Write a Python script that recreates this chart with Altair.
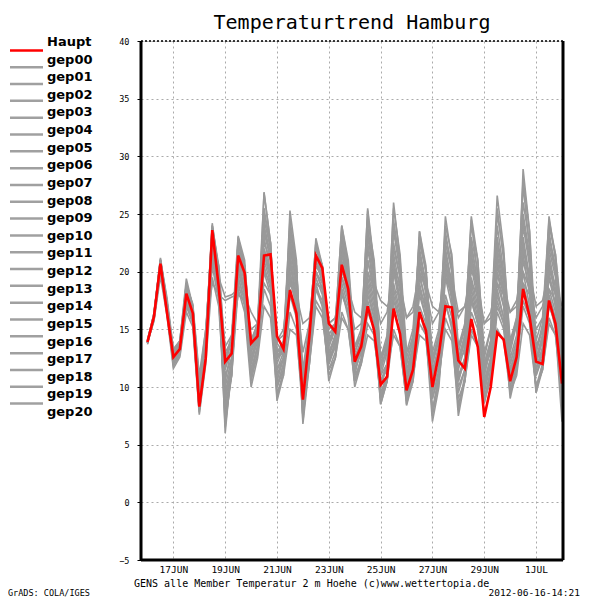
import altair as alt
import pandas as pd

# time steps (hours after 16 JUN 00Z), 6-hourly
hours = list(range(0, 385, 6))

# dates for the x-axis ticks (day offsets from 16 JUN)
tick_days = [1, 3, 5, 7, 9, 11, 13, 15]

haupt = [13.9, 16.1, 20.7, 16.5, 12.6, 13.3, 18.1, 16.4, 8.3, 12.5, 23.6, 18.7,
         12.2, 12.9, 21.4, 19.9, 13.8, 14.4, 21.4, 21.5, 14.4, 13.3, 18.4, 16.4,
         8.9, 14.4, 21.4, 20.3, 15.5, 14.8, 20.6, 18.5, 12.2, 13.5, 17.0, 14.9,
         10.2, 10.9, 16.8, 14.6, 9.7, 11.5, 16.5, 14.9, 10.0, 12.9, 17.0, 16.9,
         12.3, 11.6, 15.9, 13.5, 7.4, 10.0, 14.7, 14.1, 10.5, 12.6, 18.5, 16.1,
         12.2, 12.0, 17.5, 15.5, 10.3]

gep00 = [13.8, 16.0, 20.5, 16.8, 12.5, 13.4, 18.0, 16.2, 8.8, 13.8, 23.2, 19.0,
         12.0, 13.2, 21.0, 19.5, 13.5, 14.6, 22.5, 21.0, 13.8, 13.0, 19.5, 17.0,
         9.5, 14.0, 20.5, 19.5, 14.5, 14.0, 21.5, 19.0, 12.5, 13.8, 19.0, 16.5,
         11.0, 12.0, 18.5, 16.0, 10.5, 12.8, 19.5, 17.5, 11.5, 13.5, 20.5, 18.5,
         12.5, 13.0, 18.5, 16.0, 10.5, 12.5, 19.0, 17.0, 11.5, 13.5, 21.0, 18.5,
         12.5, 13.0, 19.5, 17.0, 12.0]
gep01 = [14.0, 16.3, 21.0, 17.2, 12.8, 13.6, 18.8, 16.8, 9.5, 14.5, 24.0, 20.5,
         13.0, 14.0, 22.8, 20.5, 14.0, 15.5, 26.8, 22.5, 12.5, 13.5, 23.0, 19.5,
         11.0, 15.0, 22.5, 20.0, 13.5, 15.5, 24.0, 20.5, 13.0, 14.5, 25.3, 20.0,
         12.0, 14.0, 24.5, 20.5, 12.5, 14.5, 22.0, 19.0, 11.0, 13.5, 23.5, 20.0,
         12.0, 14.5, 24.5, 19.5, 11.5, 14.0, 25.5, 21.0, 13.0, 15.5, 27.5, 22.0,
         13.5, 15.0, 23.5, 20.0, 14.5]
gep02 = [13.9, 15.8, 20.2, 16.4, 12.0, 13.0, 17.0, 15.5, 7.8, 12.5, 21.5, 18.0,
         9.0, 11.5, 19.0, 17.0, 11.0, 12.8, 18.5, 17.0, 10.0, 11.5, 16.5, 15.0,
         7.5, 12.0, 17.5, 16.5, 11.0, 12.5, 16.5, 15.0, 10.5, 12.0, 15.5, 14.5,
         9.0, 10.5, 15.0, 13.5, 8.8, 10.5, 15.5, 14.5, 8.0, 10.5, 16.0, 14.5,
         9.0, 10.5, 15.0, 13.5, 9.0, 11.0, 16.5, 15.0, 10.0, 12.0, 17.0, 15.5,
         10.0, 11.5, 16.0, 14.5, 9.0]
gep03 = [14.0, 16.2, 21.2, 17.5, 13.0, 14.0, 19.0, 17.0, 10.5, 14.5, 22.0, 19.5,
         17.8, 18.0, 18.5, 18.0, 16.5, 15.5, 20.0, 19.0, 13.0, 13.5, 21.0, 18.0,
         11.0, 14.5, 19.0, 18.5, 15.0, 15.5, 19.5, 18.0, 13.5, 14.5, 21.0, 18.5,
         12.5, 13.5, 20.0, 18.5, 13.0, 14.0, 18.5, 17.0, 12.5, 14.0, 19.5, 18.0,
         13.5, 15.0, 21.0, 18.5, 12.0, 14.0, 20.5, 18.5, 14.0, 15.5, 19.0, 18.0,
         15.0, 16.0, 18.5, 17.5, 15.5]
gep04 = [13.8, 16.4, 20.8, 17.0, 12.3, 13.2, 18.5, 16.0, 8.0, 13.0, 24.2, 20.0,
         6.0, 12.0, 23.0, 20.5, 12.5, 14.0, 26.9, 22.5, 11.0, 12.5, 25.3, 21.0,
         7.0, 13.0, 22.9, 20.5, 12.5, 14.5, 22.0, 19.0, 11.5, 13.5, 23.5, 19.5,
         10.0, 12.0, 22.5, 19.5, 9.5, 12.5, 23.5, 20.0, 10.0, 13.0, 22.0, 19.0,
         10.5, 12.5, 21.5, 18.5, 10.0, 12.5, 23.0, 19.5, 11.0, 13.5, 24.5, 21.0,
         12.0, 14.0, 24.8, 21.0, 13.0]
gep05 = [13.9, 16.0, 20.0, 16.5, 12.5, 13.0, 17.5, 15.8, 8.5, 13.0, 22.5, 18.5,
         7.5, 11.0, 20.0, 18.5, 11.5, 13.5, 22.0, 19.5, 9.0, 11.5, 21.0, 17.5,
         8.0, 12.5, 19.0, 17.0, 10.5, 12.5, 18.5, 16.0, 10.0, 12.0, 17.5, 15.5,
         8.5, 10.5, 17.0, 14.5, 8.4, 10.5, 16.5, 14.5, 7.0, 10.0, 17.5, 15.0,
         7.5, 10.5, 18.0, 15.5, 8.6, 11.0, 18.5, 16.0, 9.0, 11.5, 19.0, 16.5,
         9.5, 11.5, 17.5, 15.0, 7.0]
gep06 = [13.7, 15.9, 20.6, 17.0, 12.8, 13.8, 18.2, 16.5, 9.0, 14.0, 23.5, 19.5,
         11.0, 12.5, 21.5, 19.0, 13.0, 15.0, 25.5, 22.0, 12.0, 13.5, 24.0, 20.5,
         9.5, 14.0, 21.0, 19.0, 13.0, 14.5, 23.0, 20.0, 12.0, 14.0, 24.0, 19.5,
         11.5, 13.5, 26.0, 21.0, 12.0, 14.0, 21.0, 18.5, 11.0, 13.5, 24.8, 21.0,
         12.0, 14.0, 22.5, 19.0, 11.0, 13.5, 24.0, 20.0, 12.5, 14.5, 28.9, 23.5,
         12.0, 14.5, 22.0, 19.5, 12.5]
gep07 = [14.1, 16.2, 20.3, 17.0, 12.2, 13.5, 17.8, 16.0, 9.8, 14.0, 21.0, 18.0,
         12.5, 14.0, 18.0, 17.5, 14.0, 15.0, 19.0, 18.0, 14.0, 15.0, 19.5, 18.0,
         15.5, 16.0, 19.0, 18.5, 15.5, 16.0, 19.5, 18.0, 15.0, 15.5, 20.0, 18.5,
         15.5, 16.5, 20.5, 19.0, 16.0, 17.0, 20.0, 18.5, 15.5, 16.5, 19.5, 18.5,
         16.0, 17.0, 20.0, 19.0, 15.5, 16.5, 19.0, 18.0, 16.5, 17.0, 20.0, 18.5,
         16.0, 17.0, 19.5, 18.0, 16.5]
gep08 = [13.8, 16.1, 20.9, 17.5, 12.0, 13.5, 19.0, 17.0, 9.0, 14.5, 23.8, 20.0,
         10.5, 13.5, 22.5, 20.0, 12.0, 14.5, 24.0, 21.5, 11.5, 13.0, 22.0, 19.0,
         10.0, 14.5, 21.5, 19.5, 12.0, 14.0, 22.5, 19.5, 11.0, 13.5, 22.0, 18.5,
         10.0, 12.0, 20.5, 17.5, 10.5, 12.5, 20.0, 17.0, 9.5, 12.0, 21.0, 18.0,
         10.5, 12.5, 20.5, 17.5, 9.5, 12.0, 21.5, 18.5, 11.0, 13.0, 23.0, 19.5,
         11.0, 13.0, 21.0, 18.0, 11.0]
gep09 = [13.9, 15.7, 19.6, 16.2, 11.6, 12.6, 16.5, 15.2, 7.6, 12.0, 19.5, 17.0,
         8.5, 11.0, 18.5, 16.5, 10.0, 12.5, 17.0, 16.0, 9.5, 11.0, 15.0, 14.5,
         8.5, 12.0, 17.0, 16.0, 11.5, 12.5, 16.0, 15.0, 11.0, 12.0, 14.5, 14.0,
         10.5, 11.5, 14.5, 13.5, 9.0, 11.0, 14.5, 14.0, 9.0, 11.0, 15.0, 14.0,
         8.5, 10.5, 14.5, 13.5, 9.0, 10.5, 15.0, 14.0, 9.5, 11.0, 15.5, 14.5,
         10.0, 11.5, 15.5, 14.5, 10.0]
gep10 = [14.0, 16.3, 21.1, 17.2, 12.7, 13.7, 18.6, 16.6, 8.6, 13.5, 23.0, 19.0,
         9.5, 12.0, 21.5, 19.5, 12.5, 14.5, 23.5, 21.0, 10.5, 12.5, 22.5, 19.0,
         8.0, 13.0, 21.0, 19.5, 12.0, 14.0, 21.0, 18.5, 12.5, 14.0, 25.5, 20.5,
         11.0, 13.0, 23.5, 20.0, 11.5, 13.5, 23.0, 20.0, 12.0, 14.5, 22.5, 20.0,
         13.0, 15.0, 24.8, 21.0, 12.5, 15.0, 26.6, 22.0, 13.5, 16.0, 26.0, 22.5,
         13.0, 15.5, 24.0, 21.5, 16.0]
gep11 = [13.8, 16.0, 20.4, 16.8, 12.4, 13.1, 17.6, 16.0, 8.2, 13.2, 22.8, 18.5,
         8.0, 11.5, 20.5, 18.5, 11.0, 13.5, 21.0, 19.0, 11.5, 12.5, 19.5, 17.0,
         9.0, 13.5, 20.0, 18.5, 13.0, 14.0, 19.0, 17.0, 12.0, 13.0, 18.0, 16.0,
         9.5, 11.0, 19.0, 16.5, 10.0, 12.0, 18.0, 16.0, 9.0, 11.5, 19.5, 17.0,
         10.0, 11.5, 17.5, 15.5, 8.8, 11.0, 17.5, 15.5, 10.5, 12.5, 20.0, 17.0,
         11.0, 12.5, 18.5, 16.5, 11.5]
gep12 = [14.0, 16.2, 20.9, 17.1, 13.0, 13.8, 18.3, 16.8, 10.0, 14.2, 22.2, 19.0,
         13.5, 14.5, 20.5, 18.5, 13.0, 14.5, 22.0, 20.0, 12.5, 13.0, 20.5, 18.0,
         10.5, 14.5, 22.0, 20.5, 14.0, 15.0, 22.0, 19.0, 13.5, 14.5, 20.0, 17.5,
         12.0, 13.0, 21.5, 18.5, 11.0, 13.0, 20.5, 18.5, 12.5, 14.5, 20.0, 18.0,
         12.0, 14.0, 19.5, 17.0, 11.5, 13.0, 20.0, 18.0, 12.0, 14.0, 22.0, 19.0,
         12.5, 14.0, 20.5, 18.0, 13.5]
gep13 = [13.9, 16.1, 20.6, 16.7, 12.6, 13.4, 18.1, 16.3, 8.4, 13.6, 23.4, 19.2,
         7.0, 11.0, 21.0, 18.5, 10.5, 13.0, 23.0, 20.0, 10.0, 12.0, 21.5, 18.5,
         6.8, 12.0, 20.0, 18.5, 11.5, 13.0, 20.5, 18.0, 11.5, 13.0, 19.5, 17.0,
         9.0, 11.0, 21.0, 17.5, 8.5, 11.0, 19.0, 16.5, 7.5, 10.5, 20.5, 17.5,
         8.0, 11.0, 19.0, 16.5, 9.0, 11.5, 20.0, 17.0, 9.5, 12.0, 21.5, 18.0,
         9.5, 12.0, 20.0, 17.0, 8.0]
gep14 = [13.8, 16.2, 21.0, 17.3, 12.2, 13.2, 18.9, 16.9, 9.2, 14.2, 24.0, 20.2,
         11.5, 13.5, 22.0, 20.0, 14.0, 15.5, 24.5, 22.0, 13.0, 14.0, 23.5, 20.0,
         11.5, 15.5, 22.0, 20.5, 14.5, 15.5, 22.5, 20.0, 13.0, 14.5, 23.0, 20.0,
         12.5, 14.0, 22.0, 19.5, 12.0, 14.0, 21.5, 19.0, 13.0, 15.0, 23.0, 20.5,
         12.5, 14.5, 23.0, 20.0, 12.0, 14.0, 22.5, 19.5, 13.5, 15.5, 25.0, 21.5,
         13.0, 15.0, 23.0, 20.5, 14.0]
gep15 = [13.9, 15.9, 20.1, 16.6, 11.8, 12.8, 17.2, 15.6, 8.0, 12.8, 20.5, 17.5,
         9.0, 12.0, 19.5, 17.5, 12.0, 14.0, 20.0, 18.0, 8.8, 11.0, 18.0, 16.0,
         9.0, 13.0, 18.5, 17.0, 12.5, 13.5, 18.0, 16.5, 10.5, 12.5, 16.5, 15.0,
         9.0, 11.0, 17.5, 15.5, 9.5, 11.5, 17.0, 15.5, 10.5, 12.5, 18.0, 16.0,
         11.0, 12.0, 16.5, 15.0, 10.0, 12.0, 18.0, 16.0, 10.5, 12.5, 17.5, 16.0,
         11.5, 13.0, 17.0, 15.5, 12.5]
gep16 = [14.0, 16.4, 20.9, 17.4, 13.2, 14.0, 19.4, 17.0, 10.5, 15.0, 23.0, 20.5,
         12.5, 14.5, 23.1, 21.0, 13.5, 15.5, 25.0, 22.5, 12.5, 14.0, 24.5, 20.5,
         10.0, 15.0, 21.5, 20.0, 13.5, 15.0, 23.5, 20.0, 12.5, 14.0, 22.5, 19.0,
         11.5, 13.5, 24.0, 20.5, 11.0, 13.5, 23.5, 20.5, 12.0, 14.0, 21.5, 19.0,
         11.5, 13.5, 22.0, 19.0, 11.0, 13.5, 22.0, 19.0, 12.0, 14.0, 24.0, 20.5,
         12.5, 14.5, 22.5, 20.0, 13.0]
gep17 = [13.8, 16.0, 20.7, 16.9, 12.5, 13.3, 17.9, 16.2, 8.7, 13.8, 22.5, 18.8,
         10.0, 12.5, 20.0, 18.0, 12.5, 14.0, 21.5, 19.5, 11.0, 12.5, 20.0, 17.5,
         8.5, 13.0, 19.5, 18.0, 12.0, 13.5, 19.5, 17.5, 11.5, 13.0, 21.0, 18.0,
         10.5, 12.0, 20.0, 17.0, 10.0, 12.0, 21.0, 18.0, 10.5, 12.5, 21.5, 18.5,
         11.0, 12.5, 21.0, 18.0, 10.5, 12.5, 21.0, 18.0, 11.0, 13.0, 22.5, 19.0,
         11.5, 13.5, 21.5, 18.5, 12.0]
gep18 = [14.1, 16.3, 21.0, 17.8, 13.3, 14.0, 18.8, 17.2, 11.0, 15.0, 19.0, 18.0,
         17.5, 17.8, 18.0, 17.5, 15.0, 15.5, 21.5, 19.5, 14.0, 14.5, 19.0, 17.5,
         13.0, 15.5, 20.0, 19.0, 15.5, 16.0, 20.0, 18.5, 16.5, 16.0, 18.5, 19.0,
         17.5, 17.0, 18.0, 18.5, 16.0, 16.5, 19.5, 19.0, 17.0, 16.5, 20.0, 19.5,
         16.5, 17.0, 19.0, 18.0, 15.5, 16.0, 19.5, 19.0, 16.5, 17.5, 21.0, 20.0,
         17.0, 17.5, 20.0, 19.0, 17.0]
gep19 = [13.9, 16.2, 20.8, 17.1, 12.9, 13.7, 18.4, 16.7, 9.8, 14.6, 23.6, 20.0,
         12.0, 14.0, 22.5, 20.5, 13.5, 15.0, 23.5, 21.5, 12.5, 13.5, 22.5, 19.5,
         10.5, 15.0, 22.5, 20.5, 14.0, 15.5, 24.0, 21.0, 13.5, 15.0, 24.5, 21.0,
         12.5, 14.5, 25.5, 21.5, 13.0, 15.0, 22.5, 20.0, 12.5, 14.5, 24.0, 21.5,
         13.5, 15.5, 24.0, 21.0, 13.0, 15.0, 25.0, 21.5, 14.0, 16.0, 28.0, 23.5,
         14.0, 16.0, 24.5, 21.5, 15.0]
gep20 = [13.8, 16.0, 20.5, 16.6, 12.1, 13.0, 17.4, 15.8, 8.1, 13.0, 21.8, 18.2,
         6.5, 11.5, 19.5, 17.5, 11.5, 13.5, 20.5, 18.5, 10.0, 12.0, 18.5, 16.5,
         7.5, 12.5, 18.5, 17.5, 12.5, 13.5, 18.5, 16.5, 10.5, 12.5, 18.5, 16.0,
         8.5, 10.5, 18.0, 15.5, 9.0, 11.5, 18.5, 16.0, 8.0, 11.0, 17.0, 15.5,
         9.5, 11.5, 17.5, 15.5, 8.6, 11.0, 17.0, 15.5, 9.5, 11.5, 18.5, 16.0,
         10.0, 12.0, 18.0, 16.0, 9.5]

members = {
    "gep00": gep00, "gep01": gep01, "gep02": gep02, "gep03": gep03, "gep04": gep04,
    "gep05": gep05, "gep06": gep06, "gep07": gep07, "gep08": gep08, "gep09": gep09,
    "gep10": gep10, "gep11": gep11, "gep12": gep12, "gep13": gep13, "gep14": gep14,
    "gep15": gep15, "gep16": gep16, "gep17": gep17, "gep18": gep18, "gep19": gep19,
    "gep20": gep20,
}
legend_names = ["Haupt"] + list(members.keys())
legend_colors = ["#ff0000"] + ["#a0a0a0"] * len(members)

title_text = "Temperaturtrend Hamburg"
footer_text = "GENS alle Member Temperatur 2 m Hoehe (c)www.wettertopia.de"
date_text = "2012-06-16-14:21"
credit_text = "GrADS: COLA/IGES"

# ---- tables ----
rows = []
for name, vals in members.items():
    for h, v in zip(hours, vals):
        rows.append({"member": name, "day": h / 24.0, "temp": v})
df_members = pd.DataFrame(rows)
df_haupt = pd.DataFrame({"day": [h / 24.0 for h in hours], "temp": haupt})
df_legend = pd.DataFrame({"name": legend_names})
one = pd.DataFrame({"a": [0]})

W, H = 422, 519
FONT = "DejaVu Sans Mono"
X_SCALE = alt.Scale(domain=[-0.25, 16.04], nice=False, zero=False)
Y_SCALE = alt.Scale(domain=[-5, 40], nice=False, zero=False)

X_AXIS = alt.Axis(
    values=tick_days, title=None, grid=True, gridDash=[2, 3], gridColor="#aaaaaa",
    gridWidth=1, ticks=False, domain=False, labelFont=FONT, labelFontSize=9.5,
    labelColor="black", labelPadding=4, labelFlush=False, labelOverlap=False,
    labelExpr="datum.value <= 14 ? (datum.value + 16) + 'JUN' : (datum.value - 14) + 'JUL'",
)
Y_AXIS = alt.Axis(
    values=list(range(-5, 41, 5)), title=None, grid=True, gridDash=[2, 3],
    gridColor="#aaaaaa", gridWidth=1, tickSize=4, tickColor="black", domain=False,
    labelFont=FONT, labelFontSize=8.5, labelColor="black", labelPadding=8,
    labelFlush=False, labelOverlap=False,
)

gray = alt.Chart(df_members).mark_line(color="#999999", strokeWidth=1.6).encode(
    x=alt.X("day:Q", scale=X_SCALE, axis=X_AXIS),
    y=alt.Y("temp:Q", scale=Y_SCALE, axis=Y_AXIS),
    detail="member:N",
)
red = alt.Chart(df_haupt).mark_line(color="#ff0000", strokeWidth=2.6).encode(
    x=alt.X("day:Q", scale=X_SCALE, axis=X_AXIS),
    y=alt.Y("temp:Q", scale=Y_SCALE, axis=None),
)

# frame
frame_l = alt.Chart(one).mark_rule(color="black", strokeWidth=3).encode(
    x=alt.value(0), y=alt.value(0), y2=alt.value(H))
frame_r = alt.Chart(one).mark_rule(color="black", strokeWidth=3).encode(
    x=alt.value(W), y=alt.value(0), y2=alt.value(H))
frame_b = alt.Chart(one).mark_rule(color="black", strokeWidth=3).encode(
    x=alt.value(0), x2=alt.value(W), y=alt.value(H))
frame_t = alt.Chart(one).mark_rule(color="black", strokeWidth=1.5, strokeDash=[2, 2]).encode(
    x=alt.value(0), x2=alt.value(W), y=alt.value(0))

# legend (left of the plot)
leg_y = alt.Y("name:N", scale=alt.Scale(domain=legend_names, range=[1, 371], padding=0), axis=None)
leg_color = alt.Color("name:N", scale=alt.Scale(domain=legend_names, range=legend_colors), legend=None)
leg_lines = alt.Chart(df_legend).mark_rule(strokeWidth=2.5).encode(
    x=alt.value(-131), x2=alt.value(-98), y=leg_y, color=leg_color)
leg_text = alt.Chart(df_legend).mark_text(
    align="left", baseline="middle", font="DejaVu Sans", fontWeight="bold", fontSize=13,
    color="black").encode(x=alt.value(-94), y=leg_y, text="name:N")

# texts
title = alt.Chart(pd.DataFrame({"t": [title_text]})).mark_text(
    align="center", baseline="alphabetic", font=FONT, fontSize=20, color="black"
).encode(x=alt.value(W / 2), y=alt.value(-12), text="t:N")
footer = alt.Chart(pd.DataFrame({"t": [footer_text]})).mark_text(
    align="left", baseline="alphabetic", font=FONT, fontSize=10, color="black"
).encode(x=alt.value(-7), y=alt.value(546), text="t:N")
date = alt.Chart(pd.DataFrame({"t": [date_text]})).mark_text(
    align="right", baseline="alphabetic", font=FONT, fontSize=9.5, color="black"
).encode(x=alt.value(439), y=alt.value(555), text="t:N")
credit = alt.Chart(pd.DataFrame({"t": [credit_text]})).mark_text(
    align="left", baseline="alphabetic", font=FONT, fontSize=8.5, color="black"
).encode(x=alt.value(-133), y=alt.value(555), text="t:N")

chart = alt.layer(
    gray, red, frame_l, frame_r, frame_b, frame_t, leg_lines, leg_text,
    title, footer, date, credit
).resolve_scale(y="independent", color="independent").properties(
    width=W, height=H,
    autosize=alt.AutoSizeParams(type="none"),
    padding={"left": 133, "top": 33, "right": 29, "bottom": 37},
).configure_view(stroke=None).configure(background="white")

chart.save("out.html", embed_options={"renderer": "svg", "actions": False})
